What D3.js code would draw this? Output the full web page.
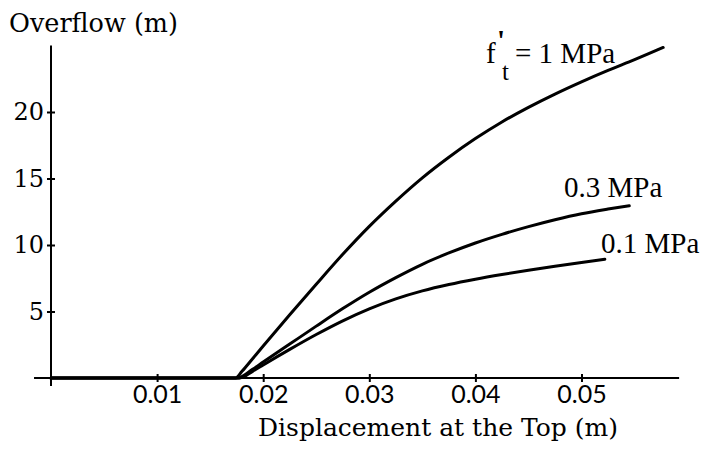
<!DOCTYPE html>
<html>
<head>
<meta charset="utf-8">
<script src="https://cdn.jsdelivr.net/npm/d3@7"></script>
<style>
  html, body { margin: 0; padding: 0; background: #fff; }
  svg { display: block; }
  .tick text { fill: #000; }
</style>
</head>
<body>
<svg id="chart" width="701" height="453"></svg>
<script>
// values
const xTicks = [0.01, 0.02, 0.03, 0.04, 0.05];
const yTicks = [5, 10, 15, 20];

const disp1MPa = [0, 0.0174, 0.018, 0.019, 0.020, 0.0225, 0.025, 0.0275, 0.030, 0.0325, 0.035, 0.0375, 0.040, 0.0425, 0.045, 0.0475, 0.050, 0.0525, 0.055, 0.0577];
const over1MPa = [0, 0, 0.5, 1.45, 2.4, 4.75, 7.05, 9.3, 11.4, 13.3, 15.05, 16.6, 18.0, 19.25, 20.35, 21.35, 22.27, 23.13, 23.93, 24.85];

const disp03MPa = [0, 0.0176, 0.019, 0.020, 0.0225, 0.025, 0.0275, 0.030, 0.0325, 0.035, 0.0375, 0.040, 0.0425, 0.045, 0.0475, 0.050, 0.0525, 0.0545];
const over03MPa = [0, 0, 0.65, 1.2, 2.55, 3.9, 5.22, 6.45, 7.55, 8.55, 9.4, 10.15, 10.8, 11.38, 11.9, 12.35, 12.7, 12.95];

const disp01MPa = [0, 0.0178, 0.019, 0.020, 0.0225, 0.025, 0.0275, 0.030, 0.0325, 0.035, 0.0375, 0.040, 0.0425, 0.045, 0.0475, 0.050, 0.0522];
const over01MPa = [0, 0, 0.5, 0.98, 2.15, 3.27, 4.3, 5.2, 5.95, 6.55, 7.03, 7.43, 7.78, 8.1, 8.4, 8.68, 8.93];

const svg = d3.select("#chart");

const x = d3.scaleLinear().domain([0, 0.05]).range([51, 581.5]);
const y = d3.scaleLinear().domain([0, 20]).range([378, 112]);

// axis lines (x axis runs a bit left of the y axis, y axis a bit below x axis)
svg.append("line")
    .attr("x1", x(-0.0016)).attr("x2", x(0.0592))
    .attr("y1", y(0)).attr("y2", y(0))
    .attr("stroke", "#000").attr("stroke-width", 2);
svg.append("line")
    .attr("x1", x(0)).attr("x2", x(0))
    .attr("y1", y(-0.6)).attr("y2", y(25))
    .attr("stroke", "#000").attr("stroke-width", 2);

const gx = svg.append("g")
    .attr("transform", "translate(0," + y(0) + ")")
    .call(d3.axisBottom(x).tickValues(xTicks).tickSize(4).tickPadding(3).tickFormat(d3.format(".2f")));
gx.select(".domain").remove();
gx.selectAll(".tick line").attr("y1", -4).attr("stroke-width", 2);
gx.selectAll(".tick text")
    .attr("font-family", "Lato, 'DejaVu Sans', sans-serif")
    .attr("font-size", 25);

const gy = svg.append("g")
    .attr("transform", "translate(" + x(0) + ",0)")
    .call(d3.axisLeft(y).tickValues(yTicks).tickSize(4).tickPadding(3));
gy.select(".domain").remove();
gy.selectAll(".tick line").attr("x1", 4).attr("stroke-width", 2);
gy.selectAll(".tick text")
    .attr("font-family", "'DejaVu Serif', serif")
    .attr("font-size", 24);

// curves
const series = [
    { xs: disp1MPa, ys: over1MPa },
    { xs: disp03MPa, ys: over03MPa },
    { xs: disp01MPa, ys: over01MPa }
];
const line = d3.line()
    .x(d => x(d[0]))
    .y(d => y(d[1]))
    .curve(d3.curveMonotoneX);

svg.selectAll("path.curve")
    .data(series)
    .enter().append("path")
    .attr("class", "curve")
    .attr("d", s => line(s.xs.map((v, i) => [v, s.ys[i]])))
    .attr("fill", "none")
    .attr("stroke", "#000")
    .attr("stroke-width", 3)
    .attr("stroke-linecap", "round");

// titles
svg.append("text")
    .attr("x", 9).attr("y", 32)
    .attr("font-family", "'DejaVu Serif', serif")
    .attr("font-size", 25.5)
    .text("Overflow (m)");

svg.append("text")
    .attr("x", 438).attr("y", 436)
    .attr("text-anchor", "middle")
    .attr("font-family", "'DejaVu Serif', serif")
    .attr("font-size", 25)
    .text("Displacement at the Top (m)");

// curve labels
const lab = svg.append("g")
    .attr("font-family", "'Liberation Serif', 'Times New Roman', serif")
    .attr("font-size", 29);

lab.append("text").attr("x", 486).attr("y", 63).text("f");
lab.append("text").attr("x", 497).attr("y", 50).attr("font-weight", "bold").text("'");
lab.append("text").attr("x", 502).attr("y", 80).attr("font-size", 25).text("t");
lab.append("text").attr("x", 515).attr("y", 63).text("= 1 MPa");

lab.append("text").attr("x", 564).attr("y", 197).text("0.3 MPa");
lab.append("text").attr("x", 601).attr("y", 253).text("0.1 MPa");
</script>
</body>
</html>
